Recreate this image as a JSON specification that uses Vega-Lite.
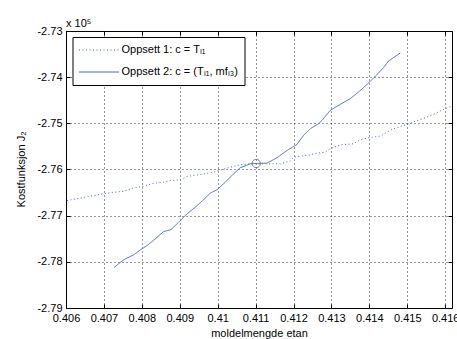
{
  "$schema": "https://vega.github.io/schema/vega-lite/v6.json",
  "width": 386,
  "height": 277,
  "autosize": {"type": "none"},
  "padding": {"left": 66, "top": 31, "right": 5, "bottom": 31},
  "background": "white",
  "title": {"text": "x 10⁵", "anchor": "start", "frame": "group", "baseline": "alphabetic", "offset": 6, "dy": 19, "font": "Liberation Sans", "fontSize": 11, "fontWeight": "normal", "color": "#000000"},
  "config": {
    "view": {"stroke": "#000000", "strokeWidth": 1},
    "axis": {"labelFont": "Liberation Sans", "labelFontSize": 11, "labelColor": "#000000", "labelOverlap": false, "labelFlush": false, "titleFont": "Liberation Sans", "titleFontSize": 11, "titleFontWeight": "normal", "titleColor": "#000000", "domain": false, "tickColor": "#000000", "tickSize": -4, "gridColor": "#000000", "gridDash": [1, 3], "gridOpacity": 0.8, "gridWidth": 1}
  },
  "datasets": {
    "curves": [
      {"serie": "Oppsett 1: c = Tₗ₁", "x": 0.406026, "y": -2.76672},
      {"serie": "Oppsett 1: c = Tₗ₁", "x": 0.406975, "y": -2.76527},
      {"serie": "Oppsett 1: c = Tₗ₁", "x": 0.407255, "y": -2.76492},
      {"serie": "Oppsett 1: c = Tₗ₁", "x": 0.407519, "y": -2.76471},
      {"serie": "Oppsett 1: c = Tₗ₁", "x": 0.407782, "y": -2.76397},
      {"serie": "Oppsett 1: c = Tₗ₁", "x": 0.408046, "y": -2.76362},
      {"serie": "Oppsett 1: c = Tₗ₁", "x": 0.40831, "y": -2.76297},
      {"serie": "Oppsett 1: c = Tₗ₁", "x": 0.408573, "y": -2.76275},
      {"serie": "Oppsett 1: c = Tₗ₁", "x": 0.40875, "y": -2.76239},
      {"serie": "Oppsett 1: c = Tₗ₁", "x": 0.409013, "y": -2.76223},
      {"serie": "Oppsett 1: c = Tₗ₁", "x": 0.40919, "y": -2.76152},
      {"serie": "Oppsett 1: c = Tₗ₁", "x": 0.409541, "y": -2.76108},
      {"serie": "Oppsett 1: c = Tₗ₁", "x": 0.409891, "y": -2.76059},
      {"serie": "Oppsett 1: c = Tₗ₁", "x": 0.410023, "y": -2.76022},
      {"serie": "Oppsett 1: c = Tₗ₁", "x": 0.410332, "y": -2.7595},
      {"serie": "Oppsett 1: c = Tₗ₁", "x": 0.410595, "y": -2.75898},
      {"serie": "Oppsett 1: c = Tₗ₁", "x": 0.410859, "y": -2.75876},
      {"serie": "Oppsett 1: c = Tₗ₁", "x": 0.411299, "y": -2.75876},
      {"serie": "Oppsett 1: c = Tₗ₁", "x": 0.41165, "y": -2.75876},
      {"serie": "Oppsett 1: c = Tₗ₁", "x": 0.411914, "y": -2.7582},
      {"serie": "Oppsett 1: c = Tₗ₁", "x": 0.412001, "y": -2.75733},
      {"serie": "Oppsett 1: c = Tₗ₁", "x": 0.412354, "y": -2.75696},
      {"serie": "Oppsett 1: c = Tₗ₁", "x": 0.412618, "y": -2.75646},
      {"serie": "Oppsett 1: c = Tₗ₁", "x": 0.412836, "y": -2.75625},
      {"serie": "Oppsett 1: c = Tₗ₁", "x": 0.412968, "y": -2.75551},
      {"serie": "Oppsett 1: c = Tₗ₁", "x": 0.413232, "y": -2.75464},
      {"serie": "Oppsett 1: c = Tₗ₁", "x": 0.413582, "y": -2.75443},
      {"serie": "Oppsett 1: c = Tₗ₁", "x": 0.413759, "y": -2.75356},
      {"serie": "Oppsett 1: c = Tₗ₁", "x": 0.413978, "y": -2.75312},
      {"serie": "Oppsett 1: c = Tₗ₁", "x": 0.414286, "y": -2.75278},
      {"serie": "Oppsett 1: c = Tₗ₁", "x": 0.414463, "y": -2.75191},
      {"serie": "Oppsett 1: c = Tₗ₁", "x": 0.414637, "y": -2.75117},
      {"serie": "Oppsett 1: c = Tₗ₁", "x": 0.414814, "y": -2.75067},
      {"serie": "Oppsett 1: c = Tₗ₁", "x": 0.41499, "y": -2.75024},
      {"serie": "Oppsett 1: c = Tₗ₁", "x": 0.415518, "y": -2.74866},
      {"serie": "Oppsett 1: c = Tₗ₁", "x": 0.415692, "y": -2.74807},
      {"serie": "Oppsett 1: c = Tₗ₁", "x": 0.415868, "y": -2.74735},
      {"serie": "Oppsett 1: c = Tₗ₁", "x": 0.416, "y": -2.74683},
      {"serie": "Oppsett 1: c = Tₗ₁", "x": 0.416158, "y": -2.74633},
      {"serie": "Oppsett 2: c = (Tₗ₁, mfₗ₃)", "x": 0.407273, "y": -2.78119},
      {"serie": "Oppsett 2: c = (Tₗ₁, mfₗ₃)", "x": 0.407432, "y": -2.78011},
      {"serie": "Oppsett 2: c = (Tₗ₁, mfₗ₃)", "x": 0.407563, "y": -2.77937},
      {"serie": "Oppsett 2: c = (Tₗ₁, mfₗ₃)", "x": 0.407782, "y": -2.7785},
      {"serie": "Oppsett 2: c = (Tₗ₁, mfₗ₃)", "x": 0.407959, "y": -2.77742},
      {"serie": "Oppsett 2: c = (Tₗ₁, mfₗ₃)", "x": 0.408136, "y": -2.77649},
      {"serie": "Oppsett 2: c = (Tₗ₁, mfₗ₃)", "x": 0.408354, "y": -2.77503},
      {"serie": "Oppsett 2: c = (Tₗ₁, mfₗ₃)", "x": 0.408573, "y": -2.77345},
      {"serie": "Oppsett 2: c = (Tₗ₁, mfₗ₃)", "x": 0.408768, "y": -2.77302},
      {"serie": "Oppsett 2: c = (Tₗ₁, mfₗ₃)", "x": 0.408969, "y": -2.77143},
      {"serie": "Oppsett 2: c = (Tₗ₁, mfₗ₃)", "x": 0.40919, "y": -2.76961},
      {"serie": "Oppsett 2: c = (Tₗ₁, mfₗ₃)", "x": 0.409409, "y": -2.76818},
      {"serie": "Oppsett 2: c = (Tₗ₁, mfₗ₃)", "x": 0.409628, "y": -2.76657},
      {"serie": "Oppsett 2: c = (Tₗ₁, mfₗ₃)", "x": 0.409804, "y": -2.7651},
      {"serie": "Oppsett 2: c = (Tₗ₁, mfₗ₃)", "x": 0.409981, "y": -2.7644},
      {"serie": "Oppsett 2: c = (Tₗ₁, mfₗ₃)", "x": 0.4102, "y": -2.76276},
      {"serie": "Oppsett 2: c = (Tₗ₁, mfₗ₃)", "x": 0.410419, "y": -2.76093},
      {"serie": "Oppsett 2: c = (Tₗ₁, mfₗ₃)", "x": 0.410595, "y": -2.75963},
      {"serie": "Oppsett 2: c = (Tₗ₁, mfₗ₃)", "x": 0.410859, "y": -2.75876},
      {"serie": "Oppsett 2: c = (Tₗ₁, mfₗ₃)", "x": 0.411017, "y": -2.7587},
      {"serie": "Oppsett 2: c = (Tₗ₁, mfₗ₃)", "x": 0.411299, "y": -2.75863},
      {"serie": "Oppsett 2: c = (Tₗ₁, mfₗ₃)", "x": 0.411563, "y": -2.75746},
      {"serie": "Oppsett 2: c = (Tₗ₁, mfₗ₃)", "x": 0.411826, "y": -2.75588},
      {"serie": "Oppsett 2: c = (Tₗ₁, mfₗ₃)", "x": 0.41209, "y": -2.75458},
      {"serie": "Oppsett 2: c = (Tₗ₁, mfₗ₃)", "x": 0.412264, "y": -2.75262},
      {"serie": "Oppsett 2: c = (Tₗ₁, mfₗ₃)", "x": 0.412441, "y": -2.75117},
      {"serie": "Oppsett 2: c = (Tₗ₁, mfₗ₃)", "x": 0.41266, "y": -2.75009},
      {"serie": "Oppsett 2: c = (Tₗ₁, mfₗ₃)", "x": 0.412749, "y": -2.74937},
      {"serie": "Oppsett 2: c = (Tₗ₁, mfₗ₃)", "x": 0.412968, "y": -2.7472},
      {"serie": "Oppsett 2: c = (Tₗ₁, mfₗ₃)", "x": 0.413232, "y": -2.7459},
      {"serie": "Oppsett 2: c = (Tₗ₁, mfₗ₃)", "x": 0.413496, "y": -2.74466},
      {"serie": "Oppsett 2: c = (Tₗ₁, mfₗ₃)", "x": 0.413714, "y": -2.74323},
      {"serie": "Oppsett 2: c = (Tₗ₁, mfₗ₃)", "x": 0.413978, "y": -2.74128},
      {"serie": "Oppsett 2: c = (Tₗ₁, mfₗ₃)", "x": 0.414199, "y": -2.73946},
      {"serie": "Oppsett 2: c = (Tₗ₁, mfₗ₃)", "x": 0.414373, "y": -2.73794},
      {"serie": "Oppsett 2: c = (Tₗ₁, mfₗ₃)", "x": 0.414505, "y": -2.73651},
      {"serie": "Oppsett 2: c = (Tₗ₁, mfₗ₃)", "x": 0.414814, "y": -2.73477}
    ],
    "marker": [{"x": 0.411017, "y": -2.7587}]
  },
  "layer": [
    {
      "data": {"name": "curves"},
      "mark": {"type": "line", "color": "#4a6bc4", "strokeWidth": 1, "clip": true},
      "encoding": {
        "x": {"field": "x", "type": "quantitative", "scale": {"domain": [0.406, 0.41618], "nice": false, "zero": false},
          "axis": {"orient": "bottom", "values": [0.406, 0.407, 0.408, 0.409, 0.41, 0.411, 0.412, 0.413, 0.414, 0.415, 0.416], "format": "~g", "labelPadding": 8, "grid": true, "title": "moldelmengde etan", "titlePadding": 4}},
        "y": {"field": "y", "type": "quantitative", "scale": {"domain": [-2.79, -2.73], "nice": false, "zero": false},
          "axis": {"orient": "left", "values": [-2.79, -2.78, -2.77, -2.76, -2.75, -2.74, -2.73], "labelExpr": "'-' + format(abs(datum.value), '.2f')", "labelPadding": 8, "grid": true, "title": "Kostfunksjon J₂", "titleBaseline": "alphabetic", "titleX": -42, "titleY": 138}},
        "strokeDash": {"field": "serie", "type": "nominal",
          "scale": {"domain": ["Oppsett 1: c = Tₗ₁", "Oppsett 2: c = (Tₗ₁, mfₗ₃)"], "range": [[1, 2.5], [1, 0]]},
          "legend": {"title": null, "orient": "none", "legendX": 6.5, "legendY": 6, "fillColor": "white", "strokeColor": "#000000", "padding": 6, "symbolType": "stroke", "symbolSize": 1600, "symbolStrokeWidth": 1, "symbolStrokeColor": "#4a6bc4", "labelFont": "Liberation Sans", "labelFontSize": 11, "labelColor": "#000000", "labelOffset": 2, "clipHeight": 14, "rowPadding": 8, "labelLimit": 300}}
      }
    },
    {
      "data": {"name": "marker"},
      "mark": {"type": "point", "shape": "circle", "filled": false, "color": "#3553b0", "size": 70, "strokeWidth": 1},
      "encoding": {
        "x": {"field": "x", "type": "quantitative", "scale": {"domain": [0.406, 0.41618], "nice": false, "zero": false},
          "axis": {"orient": "top", "values": [0.406, 0.407, 0.408, 0.409, 0.41, 0.411, 0.412, 0.413, 0.414, 0.415, 0.416], "labels": false, "grid": false, "title": null}},
        "y": {"field": "y", "type": "quantitative", "scale": {"domain": [-2.79, -2.73], "nice": false, "zero": false},
          "axis": {"orient": "right", "values": [-2.79, -2.78, -2.77, -2.76, -2.75, -2.74, -2.73], "labels": false, "grid": false, "title": null}}
      }
    }
  ],
  "resolve": {"axis": {"x": "independent", "y": "independent"}}
}
